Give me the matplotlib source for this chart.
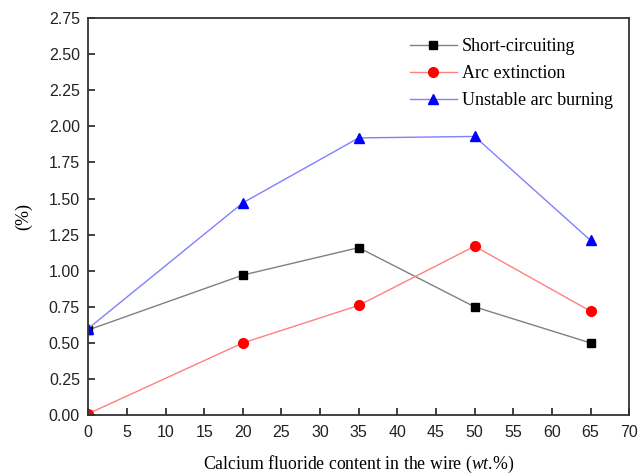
import numpy as np
import matplotlib
matplotlib.use('Agg')
import matplotlib.pyplot as plt

plt.rcParams['mathtext.fontset'] = 'custom'
plt.rcParams['mathtext.it'] = 'Liberation Serif:italic'
plt.rcParams['mathtext.rm'] = 'Liberation Serif'

caf2 = [0, 20, 35, 50, 65]
short_circ = [0.59, 0.97, 1.16, 0.75, 0.50]
arc_ext = [0.01, 0.50, 0.76, 1.17, 0.72]
unstable = [0.60, 1.47, 1.92, 1.93, 1.21]

fig = plt.figure(figsize=(6.44, 4.75), dpi=100)
ax = fig.add_axes([0.137, 0.126, 0.840, 0.836])

ax.plot(caf2, short_circ, color='#808080', lw=1, marker='s', ms=6,
        mfc='black', mec='black', label='Short-circuiting')
ax.plot(caf2, arc_ext, color='#ff8080', lw=1, marker='o', ms=7,
        mfc='red', mec='red', label='Arc extinction')
ax.plot(caf2, unstable, color='#8080ff', lw=1, marker='^', ms=7,
        mfc='blue', mec='blue', label='Unstable arc burning')

ax.set_xlim(0, 70)
ax.set_ylim(0, 2.75)
ax.set_xticks(np.arange(0, 71, 5))
ax.set_yticks(np.arange(0, 2.76, 0.25))
ax.set_yticklabels(['%.2f' % v for v in np.arange(0, 2.76, 0.25)])
ax.tick_params(direction='in', length=5, width=1.2, labelsize=11.5,
               top=False, right=False, colors='#222222')
ax.tick_params(axis='x', pad=7)
ax.tick_params(axis='y', pad=6)
for lab in ax.get_xticklabels() + ax.get_yticklabels():
    lab.set_family('Liberation Sans')
for s in ax.spines.values():
    s.set_linewidth(1.3)
    s.set_color('#333333')

ax.set_xlabel('Calcium fluoride content in the wire ($\\mathit{wt}$.%)',
              family='Liberation Serif', fontsize=12.8, labelpad=10)
ax.set_ylabel('(%)', family='Liberation Serif', fontsize=13, labelpad=12)

leg = ax.legend(loc='upper right', bbox_to_anchor=(1.0, 0.99), frameon=False,
                prop={'family': 'Liberation Serif', 'size': 13},
                handlelength=2.6, labelspacing=0.55, handletextpad=0.3)

fig.savefig('out.png', dpi=100)
